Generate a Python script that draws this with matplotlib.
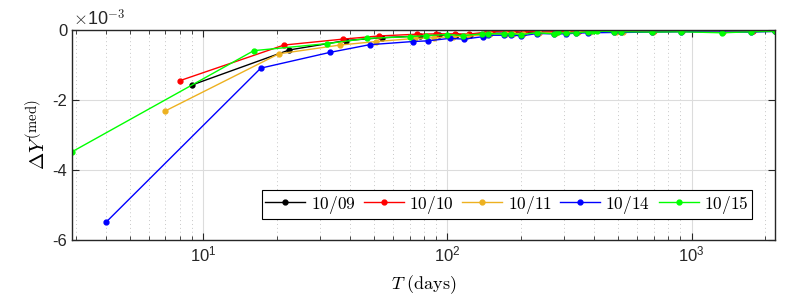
import matplotlib
matplotlib.use("Agg")
import matplotlib.pyplot as plt
from matplotlib.ticker import LogLocator, NullFormatter

plt.rcParams['font.family'] = ['Liberation Sans', 'DejaVu Sans']
plt.rcParams['mathtext.fontset'] = 'cm'
plt.rcParams['axes.unicode_minus'] = False

labels = ['10/09', '10/10', '10/11', '10/14', '10/15']
colors = ['#000000', '#FF0000', '#EDB120', '#0000FF', '#00FF00']

T_0909 = [9, 22.5, 38.5, 54, 77, 92, 108, 124, 142, 150, 172, 185, 203, 236, 276, 308, 340, 381, 485, 520, 695, 910, 1340, 1770, 2200]
Y_0909 = [-1.57, -0.57, -0.30, -0.22, -0.17, -0.15, -0.13, -0.13, -0.10, -0.09, -0.09, -0.08, -0.09, -0.06, -0.07, -0.06, -0.05, -0.04, -0.04, -0.04, -0.04, -0.03, -0.04, -0.03, -0.02]

T_1010 = [8, 21.4, 37.4, 52.5, 75, 90, 107, 122, 152, 176, 186, 205, 238, 280, 310, 345, 385, 490, 525, 700, 915, 1345, 1780, 2200]
Y_1010 = [-1.45, -0.43, -0.26, -0.17, -0.12, -0.11, -0.11, -0.12, -0.04, -0.03, -0.04, -0.06, -0.02, -0.04, -0.03, -0.03, -0.03, -0.03, -0.02, -0.03, -0.02, -0.03, -0.02, -0.01]

T_1011 = [7, 20.4, 36.3, 51, 74, 88, 105, 120, 143, 150, 173, 186, 204, 237, 278, 310, 342, 383, 488, 522, 698, 912, 1342, 1775, 2200]
Y_1011 = [-2.31, -0.68, -0.43, -0.33, -0.24, -0.22, -0.19, -0.18, -0.14, -0.12, -0.11, -0.10, -0.11, -0.08, -0.08, -0.07, -0.06, -0.06, -0.05, -0.05, -0.05, -0.04, -0.05, -0.04, -0.03]

T_1014 = [4, 17.2, 33, 48, 72, 83, 102, 117, 140, 146, 170, 182, 200, 233, 273, 305, 336, 377, 481, 514, 690, 904, 1333, 1757, 2200]
Y_1014 = [-5.49, -1.09, -0.64, -0.42, -0.33, -0.31, -0.24, -0.26, -0.19, -0.15, -0.15, -0.14, -0.17, -0.10, -0.11, -0.11, -0.09, -0.08, -0.07, -0.07, -0.06, -0.05, -0.06, -0.06, -0.04]

T_1015 = [2.9, 16.1, 32, 47, 70, 82, 100, 116, 139, 146, 170, 182, 200, 233, 273, 283, 305, 336, 377, 394, 410, 481, 514, 690, 904, 1333, 1757, 2200]
Y_1015 = [-3.48, -0.59, -0.39, -0.24, -0.19, -0.16, -0.13, -0.16, -0.11, -0.10, -0.12, -0.10, -0.13, -0.08, -0.11, -0.07, -0.09, -0.08, -0.05, -0.03, -0.03, -0.05, -0.05, -0.06, -0.05, -0.08, -0.05, -0.04]

series = [(T_0909, Y_0909), (T_1010, Y_1010), (T_1011, Y_1011), (T_1014, Y_1014), (T_1015, Y_1015)]

fig = plt.figure(figsize=(8, 3), dpi=100)
ax = fig.add_axes([0.09, 0.2, 0.879, 0.7])

for (T, Y), lab, c in zip(series, labels, colors):
    ax.plot(T, Y, '-', color=c, lw=1.0, marker='o', ms=3.5, mec=c, mfc=c,
            label=r'$\mathrm{' + lab + '}$')

ax.set_xscale('log')
ax.set_xlim(2.9, 2200)
ax.set_ylim(-6, 0)
ax.set_yticks([-6, -4, -2, 0])
ax.set_yticklabels(['-6', '-4', '-2', '0'])
ax.xaxis.set_major_locator(LogLocator(base=10, numticks=10))
ax.xaxis.set_minor_locator(LogLocator(base=10, subs=range(2, 10), numticks=20))
ax.xaxis.set_minor_formatter(NullFormatter())

ax.grid(True, which='major', axis='both', color='#DCDCDC', lw=0.8, ls='-')
ax.grid(True, which='minor', axis='x', color='#C8C8C8', lw=0.7, ls=(0, (1, 3)))
ax.set_axisbelow(True)

ax.tick_params(which='both', direction='in', top=True, right=True, labelsize=12, colors='#262626')
ax.tick_params(which='major', length=5)
ax.tick_params(which='minor', length=3)
for s in ax.spines.values():
    s.set_color('#262626')
    s.set_linewidth(1.0)

ax.set_xlabel(r'$T\ \mathrm{(days)}$', fontsize=13, labelpad=6)
ax.set_ylabel(r'$\Delta Y^{\mathrm{(med)}}$', fontsize=15, labelpad=2)

fig.text(0.091, 0.915, r'$\times$10$^{\mathsf{-3}}$', fontsize=13, color='#262626')

leg = ax.legend(loc='lower right', ncol=5, fontsize=12.5, frameon=True, fancybox=False,
                edgecolor='black', framealpha=1, handlelength=2.3, handletextpad=0.3,
                columnspacing=0.5, borderpad=0.2, borderaxespad=0.0,
                bbox_to_anchor=(0.967, 0.1))
leg.get_frame().set_linewidth(0.8)

fig.savefig('out.png', dpi=100)
